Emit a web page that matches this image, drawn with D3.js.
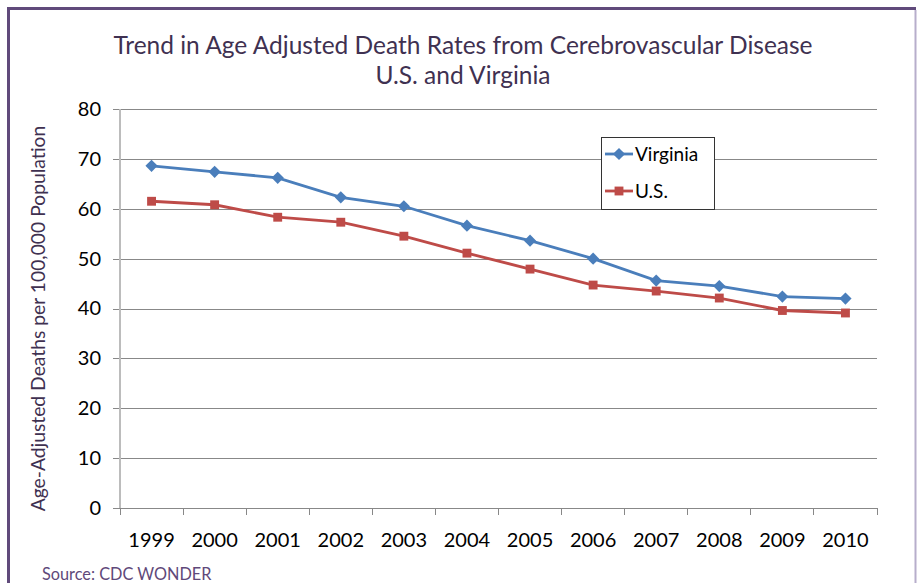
<!DOCTYPE html>
<html lang="en">
<head>
    <meta charset="UTF-8">
    <title>Trend in Age Adjusted Death Rates from Cerebrovascular Disease</title>
    <script src="https://d3js.org/d3.v7.min.js"></script>
    <style>
        body { margin: 0; background: white; }
        svg text { font-family: Lato, "Open Sans", sans-serif; }
    </style>
</head>
<body>
    <div id="chart"></div>

    <script>
        // data
        const years = ["1999", "2000", "2001", "2002", "2003", "2004", "2005", "2006", "2007", "2008", "2009", "2010"];
        const virginia = [68.6, 67.4, 66.2, 62.3, 60.5, 56.6, 53.6, 50.0, 45.6, 44.5, 42.4, 42.0];
        const us = [61.5, 60.8, 58.3, 57.3, 54.5, 51.1, 47.9, 44.7, 43.5, 42.1, 39.6, 39.1];
        const yTicks = [0, 10, 20, 30, 40, 50, 60, 70, 80];

        const width = 917, height = 583;
        const margin = {top: 109, right: 40, bottom: 75, left: 120};

        const svg = d3.select("#chart")
                      .append("svg")
                      .attr("width", width)
                      .attr("height", height);

        // frame around the chart
        svg.append("line").attr("x1", 8.5).attr("x2", 8.5).attr("y1", 7).attr("y2", height)
           .attr("stroke", "#604a7b").attr("stroke-width", 3);
        svg.append("line").attr("x1", 7).attr("x2", 916).attr("y1", 8.5).attr("y2", 8.5)
           .attr("stroke", "#604a7b").attr("stroke-width", 3);
        svg.append("line").attr("x1", 915.5).attr("x2", 915.5).attr("y1", 10).attr("y2", height)
           .attr("stroke", "#b7aecb").attr("stroke-width", 2);

        const x = d3.scaleBand()
                    .domain(years)
                    .range([margin.left, width - margin.right]);

        const y = d3.scaleLinear()
                    .domain([0, 80])
                    .range([height - margin.bottom, margin.top]);

        // horizontal gridlines + y labels
        const yAxis = svg.append("g")
           .attr("transform", `translate(${margin.left},0)`)
           .call(d3.axisLeft(y).tickValues(yTicks).tickSize(7).tickPadding(12))
           .call(g => g.select(".domain").remove());
        yAxis.selectAll(".tick line").clone()
             .attr("x2", width - margin.right - margin.left);
        yAxis.selectAll(".tick line").attr("stroke", "#888").attr("shape-rendering", "crispEdges");
        yAxis.selectAll(".tick text").attr("font-size", 20).attr("fill", "#000");

        // y axis line
        svg.append("line")
           .attr("x1", margin.left).attr("x2", margin.left)
           .attr("y1", y(80)).attr("y2", y(0))
           .attr("stroke", "#bcbcbc").attr("stroke-width", 2);

        // x axis with ticks between categories
        const xAxis = svg.append("g")
           .attr("transform", `translate(0,${y(0)})`);
        xAxis.append("line")
             .attr("x1", margin.left).attr("x2", width - margin.right)
             .attr("stroke", "#888").attr("shape-rendering", "crispEdges");
        xAxis.selectAll(".sep")
             .data(years.concat(["end"]))
             .join("line")
             .attr("x1", (d, i) => margin.left + i * x.bandwidth())
             .attr("x2", (d, i) => margin.left + i * x.bandwidth())
             .attr("y1", 0).attr("y2", 7)
             .attr("stroke", "#888").attr("shape-rendering", "crispEdges");
        xAxis.selectAll(".lbl")
             .data(years)
             .join("text")
             .attr("x", d => x(d) + x.bandwidth() / 2)
             .attr("y", 39)
             .attr("text-anchor", "middle")
             .attr("font-size", 20)
             .attr("fill", "#000")
             .text(d => d);

        const series = [
            {name: "Virginia", values: virginia, color: "#4a7ebb", symbol: d3.symbolDiamond2, size: 95},
            {name: "U.S.", values: us, color: "#be4b48", symbol: d3.symbolSquare2, size: 100}
        ];

        const line = d3.line()
                       .x((d, i) => x(years[i]) + x.bandwidth() / 2)
                       .y(d => y(d));

        series.forEach(s => {
            svg.append("path")
               .datum(s.values)
               .attr("fill", "none")
               .attr("stroke", s.color)
               .attr("stroke-width", 2.8)
               .attr("d", line);
            svg.selectAll(null)
               .data(s.values)
               .join("path")
               .attr("transform", (d, i) => `translate(${x(years[i]) + x.bandwidth() / 2},${y(d)})`)
               .attr("d", d3.symbol().type(s.symbol).size(s.size))
               .attr("fill", s.color);
        });

        // legend
        const legend = svg.append("g").attr("transform", "translate(601,137)");
        legend.append("rect")
              .attr("x", 0.5).attr("y", 0.5)
              .attr("width", 113).attr("height", 72)
              .attr("fill", "white").attr("stroke", "#333");
        series.forEach((s, i) => {
            const ly = 17 + i * 37;
            legend.append("line")
                  .attr("x1", 4).attr("x2", 32).attr("y1", ly).attr("y2", ly)
                  .attr("stroke", s.color).attr("stroke-width", 2.8);
            legend.append("path")
                  .attr("transform", `translate(18,${ly})`)
                  .attr("d", d3.symbol().type(s.symbol).size(s.size))
                  .attr("fill", s.color);
            legend.append("text")
                  .attr("x", 34).attr("y", ly + 7)
                  .attr("font-size", 19)
                  .attr("fill", "#000")
                  .text(s.name);
        });

        // title
        const title = svg.append("text")
           .attr("text-anchor", "middle")
           .attr("fill", "#3f3151")
           .attr("font-size", 24.5);
        title.append("tspan").attr("x", 463).attr("y", 54)
             .text("Trend in Age Adjusted Death Rates from Cerebrovascular Disease");
        title.append("tspan").attr("x", 463).attr("y", 84)
             .text("U.S. and Virginia");

        // y axis label
        svg.append("text")
           .attr("transform", `translate(45,${(y(0) + y(80)) / 2 + 10}) rotate(-90)`)
           .attr("text-anchor", "middle")
           .attr("fill", "#3f3151")
           .attr("font-size", 19.3)
           .text("Age-Adjusted Deaths per 100,000 Population");

        // source note
        svg.append("text")
           .attr("x", 42).attr("y", 580)
           .attr("fill", "#5f497a")
           .attr("font-size", 16.3)
           .text("Source: CDC WONDER");
    </script>
</body>
</html>
